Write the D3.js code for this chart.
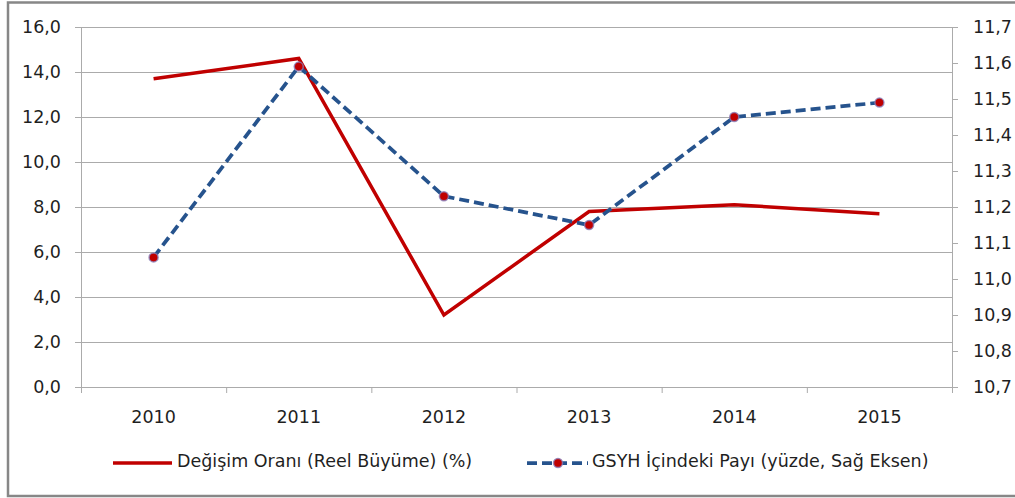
<!DOCTYPE html>
<html>
<head>
<meta charset="utf-8">
<script src="https://cdn.jsdelivr.net/npm/d3@7"></script>
<style>
  body { margin: 0; background: #fff; }
  text { font-family: "DejaVu Sans", sans-serif; fill: #1f1f1f; }
</style>
</head>
<body>
<div id="chart"></div>
<script>
// data
var years = ["2010", "2011", "2012", "2013", "2014", "2015"];
var growth = [13.7, 14.6, 3.2, 7.8, 8.1, 7.7];          // left axis
var gdpShare = [11.06, 11.59, 11.23, 11.15, 11.45, 11.49]; // right axis
var leftTicks = [0, 2, 4, 6, 8, 10, 12, 14, 16];
var rightTicks = [10.7, 10.8, 10.9, 11.0, 11.1, 11.2, 11.3, 11.4, 11.5, 11.6, 11.7];
var seriesNames = ["Değişim Oranı (Reel Büyüme) (%)", "GSYH İçindeki Payı (yüzde, Sağ Eksen)"];

var svgWidth = 1015;
var svgHeight = 498;
var plot = { left: 81, right: 952, top: 27, bottom: 387 };
var fontSize = "17.5px";

var red = "#c00000";
var blue = "#26538d";
var gridColor = "#ababab";

var svg = d3.select("#chart")
  .append("svg")
  .attr("width", svgWidth)
  .attr("height", svgHeight);

// outer frame
svg.append("rect")
  .attr("x", 8)
  .attr("y", 2.5)
  .attr("width", svgWidth + 20)
  .attr("height", 493.5)
  .attr("fill", "none")
  .attr("stroke", "#878787")
  .attr("stroke-width", 2.5);

// scales
var x = d3.scaleBand().domain(years).range([plot.left, plot.right]);
var xEdges = d3.scaleLinear().domain([0, years.length]).range([plot.left, plot.right]);
var yLeft = d3.scaleLinear().domain([0, 16]).range([plot.bottom, plot.top]);
var yRight = d3.scaleLinear().domain([10.7, 11.7]).range([plot.bottom, plot.top]);

var comma = function(d) { return d3.format(".1f")(d).replace(".", ","); };

// gridlines
svg.append("g")
  .attr("transform", `translate(${plot.left},0)`)
  .call(d3.axisLeft(yLeft).tickValues(leftTicks.slice(1)).tickSize(-(plot.right - plot.left)).tickFormat(""))
  .call(g => g.select(".domain").remove())
  .call(g => g.selectAll("line").attr("stroke", gridColor));

// left axis
var leftAxis = svg.append("g")
  .attr("transform", `translate(${plot.left},0)`)
  .call(d3.axisLeft(yLeft).tickValues(leftTicks).tickSize(6).tickPadding(14).tickFormat(comma));

// right axis
var rightAxis = svg.append("g")
  .attr("transform", `translate(${plot.right},0)`)
  .call(d3.axisRight(yRight).tickValues(rightTicks).tickSize(6).tickPadding(15).tickFormat(comma));

// x axis: tick marks between categories, labels centred
var xTicks = svg.append("g")
  .attr("transform", `translate(0,${plot.bottom})`)
  .call(d3.axisBottom(xEdges).tickValues(d3.range(years.length + 1)).tickSize(6).tickFormat(""));

var xLabels = svg.append("g")
  .attr("transform", `translate(0,${plot.bottom})`)
  .call(d3.axisBottom(x).tickSize(0).tickPadding(24));
xLabels.select(".domain").remove();

[leftAxis, rightAxis, xTicks].forEach(function(g) {
  g.select(".domain").attr("stroke", gridColor);
  g.selectAll(".tick line").attr("stroke", gridColor);
});

svg.selectAll(".tick text")
  .attr("font-size", fontSize)
  .attr("fill", "#1f1f1f");

var cx = function(d, i) { return x(years[i]) + x.bandwidth() / 2; };

// red line
svg.append("path")
  .datum(growth)
  .attr("fill", "none")
  .attr("stroke", red)
  .attr("stroke-width", 3.5)
  .attr("stroke-linejoin", "miter")
  .attr("d", d3.line().x(cx).y(d => yLeft(d)));

// blue dashed line
svg.append("path")
  .datum(gdpShare)
  .attr("fill", "none")
  .attr("stroke", blue)
  .attr("stroke-width", 3.75)
  .attr("stroke-dasharray", "10,5")
  .attr("d", d3.line().x(cx).y(d => yRight(d)));

// markers
svg.selectAll("circle.pt")
  .data(gdpShare)
  .enter()
  .append("circle")
  .attr("class", "pt")
  .attr("cx", cx)
  .attr("cy", d => yRight(d))
  .attr("r", 4.5)
  .attr("fill", red)
  .attr("stroke", "#8a7db8")
  .attr("stroke-opacity", 0.8)
  .attr("stroke-width", 1.5);

// legend
var legend = svg.append("g");

legend.append("line")
  .attr("x1", 113).attr("x2", 172)
  .attr("y1", 463).attr("y2", 463)
  .attr("stroke", red)
  .attr("stroke-width", 3.5);

legend.append("text")
  .attr("x", 177)
  .attr("y", 467)
  .attr("font-size", fontSize)
  .text(seriesNames[0]);

legend.append("line")
  .attr("x1", 527).attr("x2", 588)
  .attr("y1", 463).attr("y2", 463)
  .attr("stroke", blue)
  .attr("stroke-width", 3.75)
  .attr("stroke-dasharray", "10,5");

legend.append("circle")
  .attr("cx", 558)
  .attr("cy", 463)
  .attr("r", 4.5)
  .attr("fill", red)
  .attr("stroke", "#8a7db8")
  .attr("stroke-opacity", 0.8)
  .attr("stroke-width", 1.5);

legend.append("text")
  .attr("x", 592)
  .attr("y", 467)
  .attr("font-size", fontSize)
  .text(seriesNames[1]);
</script>
</body>
</html>
